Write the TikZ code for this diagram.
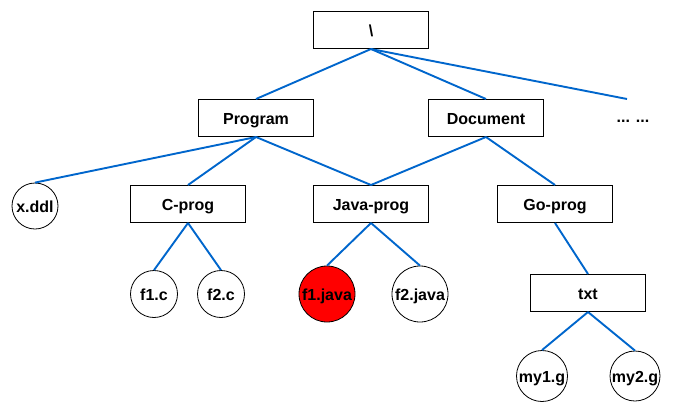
\documentclass[tikz,border=0pt]{standalone}
\usepackage{fontspec}
\setmainfont{Liberation Sans}
\definecolor{linkblue}{HTML}{0066CC}
\begin{document}
\begin{tikzpicture}[x=1pt,y=-1pt,
  dirbox/.style={draw,line width=1pt,minimum width=115pt,minimum height=37pt,inner sep=0pt,
    text height=12pt,text depth=0pt,font=\bfseries\fontsize{16}{19}\selectfont},
  filenode/.style={draw,circle,line width=0.8pt,inner sep=0pt,
    text height=12pt,text depth=0pt,font=\bfseries\fontsize{16}{19}\selectfont},
  link/.style={draw=linkblue,line width=1.9pt}]
  \useasboundingbox (0,0) rectangle (678,413);
  % directories
  \node[dirbox] (root) at (371,30) {\textbackslash};
  \node[dirbox] (prog) at (256,118) {Program};
  \node[dirbox] (doc) at (486,118) {Document};
  \node[font=\bfseries\fontsize{16}{19}\selectfont] (more) at (633,121) {... ...};
  \coordinate (moretop) at (627,99);
  \node[dirbox] (cprog) at (188,204) {C-prog};
  \node[dirbox] (jprog) at (371,204) {Java-prog};
  \node[dirbox] (gprog) at (555,204) {Go-prog};
  \node[dirbox] (txt) at (588,293) {txt};
  % files
  \node[filenode,minimum size=46pt] (xddl) at (35,206) {x.ddl};
  \node[filenode,minimum size=47pt] (f1c) at (154,294) {f1.c};
  \node[filenode,minimum size=47pt] (f2c) at (221,294) {f2.c};
  \node[filenode,minimum size=56pt,fill=red] (f1java) at (327,294) {f1.java};
  \node[filenode,minimum size=56pt] (f2java) at (420,294) {f2.java};
  \node[filenode,minimum size=51pt] (my1g) at (542,376) {my1.g};
  \node[filenode,minimum size=50pt] (my2g) at (635,376) {my2.g};
  % links
  \draw[link] (root.south) -- (prog.north);
  \draw[link] (root.south) -- (doc.north);
  \draw[link] (root.south) -- (moretop);
  \draw[link] (prog.south) -- (xddl.north);
  \draw[link] (prog.south) -- (cprog.north);
  \draw[link] (prog.south) -- (jprog.north);
  \draw[link] (doc.south) -- (jprog.north);
  \draw[link] (doc.south) -- (gprog.north);
  \draw[link] (cprog.south) -- (f1c.north);
  \draw[link] (cprog.south) -- (f2c.north);
  \draw[link] (jprog.south) -- (f1java.north);
  \draw[link] (jprog.south) -- (f2java.north);
  \draw[link] (gprog.south) -- (txt.north);
  \draw[link] (txt.south) -- (my1g.north);
  \draw[link] (txt.south) -- (my2g.north);
\end{tikzpicture}
\end{document}
